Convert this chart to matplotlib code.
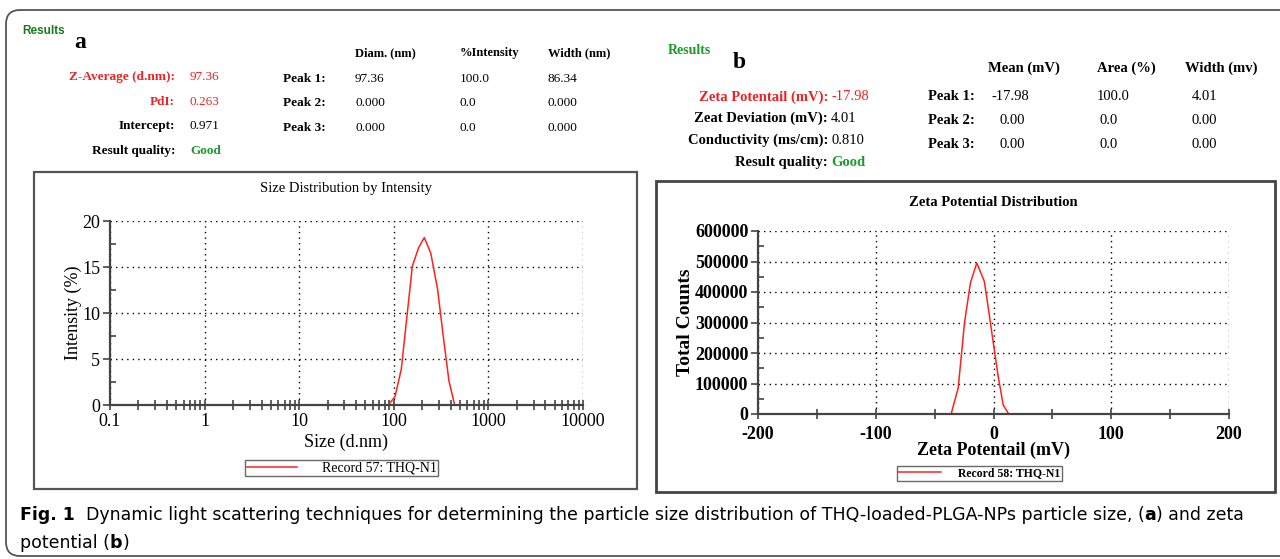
import numpy as np
import matplotlib
matplotlib.use("Agg")
import matplotlib.pyplot as plt
from matplotlib.patches import Rectangle, FancyBboxPatch
from matplotlib.ticker import MultipleLocator, LogLocator, NullFormatter

plt.rcParams["axes.unicode_minus"] = False

# ---- data ----
size_nm = [0.4, 1, 10, 87, 103, 120, 157, 183, 210, 246, 290, 333, 383, 440, 1000, 10000]
intensity = [0, 0, 0, 0, 0.9, 3.9, 15.1, 17.1, 18.2, 16.5, 12.6, 7.5, 2.6, 0, 0, 0]

zeta_mv = [-150, -100, -36, -30, -24.6, -19.6, -14.2, -7.8, -3.5, 0.5, 3.8, 8.2, 12.9, 50, 150]
counts = [0, 0, 0, 85000, 300000, 430000, 495000, 435000, 323000, 215000, 128000, 30000, 0, 0, 0]

size_ticks = [0.1, 1, 10, 100, 1000, 10000]
size_ticklabels = ["0.1", "1", "10", "100", "1000", "10000"]
zeta_ticks = [-200, -100, 0, 100, 200]

W, H = 1280, 559
fig = plt.figure(figsize=(W / 100, H / 100), dpi=100)

# overlay in pixel coordinates for frames and text
ov = fig.add_axes([0, 0, 1, 1], zorder=0)
ov.set_xlim(0, W)
ov.set_ylim(H, 0)
ov.axis("off")

SERIF = "Liberation Serif"
RED = "#ee2222"
GREEN = "#1a9a2a"

ov.add_patch(FancyBboxPatch((6, 10), 1400, 546, boxstyle="round,pad=0,rounding_size=14",
                            fc="none", ec="#555555", lw=1.3, clip_on=False))
ov.add_patch(Rectangle((34, 172), 603, 317, fc="none", ec="#555555", lw=1.6))
ov.add_patch(Rectangle((656, 181), 619, 311, fc="none", ec="#444444", lw=2.0))


def txt(x, y, s, size=9.5, color="black", weight="bold", ha="left", family=SERIF):
    return ov.text(x, y, s, fontsize=size, color=color, fontweight=weight, ha=ha, va="center",
                   family=family)


# ---- panel a header ----
txt(22, 31, "Results", 8.5, "#1a7a1a", family="Liberation Sans")
txt(74, 42, "a", 17)
for x, s in [(355, "Diam. (nm)"), (460, "%Intensity"), (548, "Width (nm)")]:
    txt(x, 53, s, 9)
rows_a = [("Z-Average (d.nm):", "97.36", RED, RED, "normal"),
          ("PdI:", "0.263", RED, RED, "normal"),
          ("Intercept:", "0.971", "black", "black", "normal"),
          ("Result quality:", "Good", "black", GREEN, "bold")]
for i, (lab, val, c1, c2, w) in enumerate(rows_a):
    y = 77 + i * 24.7
    txt(175, y, lab, 9.5, c1, ha="right")
    txt(190, y, val, 9.5, c2, weight=w)
peaks_a = [("Peak 1:", "97.36", "100.0", "86.34"),
           ("Peak 2:", "0.000", "0.0", "0.000"),
           ("Peak 3:", "0.000", "0.0", "0.000")]
for i, (p, d, it, wd) in enumerate(peaks_a):
    y = 79 + i * 24.5
    txt(283, y, p, 9.5)
    txt(355, y, d, 9.5, weight="normal")
    txt(460, y, it, 9.5, weight="normal")
    txt(548, y, wd, 9.5, weight="normal")

# ---- panel b header ----
txt(668, 51, "Results", 10, GREEN)
txt(733, 63, "b", 17)
for x, s in [(988, "Mean (mV)"), (1097, "Area (%)"), (1185, "Width (mv)")]:
    txt(x, 68, s, 10.5)
rows_b = [("Zeta Potentail (mV):", "-17.98", RED, RED, "normal"),
          ("Zeat Deviation (mV):", "4.01", "black", "black", "normal"),
          ("Conductivity (ms/cm):", "0.810", "black", "black", "normal"),
          ("Result quality:", "Good", "black", GREEN, "bold")]
for i, (lab, val, c1, c2, w) in enumerate(rows_b):
    y = 97 + i * 21.7
    txt(828, y, lab, 10.5, c1, ha="right")
    txt(831, y, val, 10.5, c2, weight=w)
peaks_b = [("Peak 1:", "-17.98", "100.0", "4.01"),
           ("Peak 2:", "0.00", "0.0", "0.00"),
           ("Peak 3:", "0.00", "0.0", "0.00")]
for i, (p, m, ar, wd) in enumerate(peaks_b):
    y = 97 + i * 24
    txt(928, y, p, 10.5)
    txt(992 if i == 0 else 1000, y, m, 10.5, weight="normal")
    txt(1097 if i == 0 else 1100, y, ar, 10.5, weight="normal")
    txt(1192, y, wd, 10.5, weight="normal")

# ---- caption, pieces chained one after another ----
CAP = "DejaVu Sans"


def chain(x, y, parts, size=12.4):
    prev = None
    for s, w in parts:
        if prev is None:
            prev = ov.text(x, y, s, fontsize=size, fontweight=w, family=CAP, va="bottom")
        else:
            prev = ov.annotate(s, xy=(1, 0), xycoords=prev, fontsize=size, fontweight=w,
                               family=CAP, va="bottom", ha="left")


chain(20, 524, [("Fig. 1", "bold"),
                ("  Dynamic light scattering techniques for determining the particle size "
                 "distribution of THQ-loaded-PLGA-NPs particle size, (", "normal"),
                ("a", "bold"), (") and zeta", "normal")], 12.5)
chain(20, 552, [("potential (", "normal"), ("b", "bold"), (")", "normal")], 12.5)


def px_axes(l, t, r, b):
    return fig.add_axes([l / W, 1 - b / H, (r - l) / W, (b - t) / H], zorder=1)


def style(ax, bold, xpad=2):
    for s in ["top", "right"]:
        ax.spines[s].set_visible(False)
    for s in ["left", "bottom"]:
        ax.spines[s].set_color("#444444")
        ax.spines[s].set_linewidth(1.6)
    ax.set_facecolor("none")
    ax.grid(True, which="major", color="black", linestyle=(0, (1, 3)), lw=1)
    ax.tick_params(axis="both", which="both", color="#444444", width=1.2)
    ax.tick_params(axis="y", which="major", length=5, pad=2)
    ax.tick_params(axis="y", which="minor", length=4, direction="in")
    ax.tick_params(axis="x", which="both", length=7, direction="inout", pad=xpad)
    for lab in ax.get_xticklabels() + ax.get_yticklabels():
        lab.set_family(SERIF)
        lab.set_fontsize(13)
        lab.set_fontweight("bold" if bold else "normal")


# ---- panel a plot ----
axa = px_axes(110, 221, 583, 405)
axa.plot(size_nm, intensity, color="#ff2020", lw=1.1, clip_on=False, label="Record 57: THQ-N1")
axa.set_xscale("log")
axa.set_xlim(0.1, 10000)
axa.set_ylim(0, 20)
axa.set_xticks(size_ticks)
axa.set_xticklabels(size_ticklabels)
axa.xaxis.set_minor_locator(LogLocator(base=10, subs=np.arange(2, 10)))
axa.xaxis.set_minor_formatter(NullFormatter())
axa.set_yticks([0, 5, 10, 15, 20])
axa.yaxis.set_minor_locator(MultipleLocator(2.5))
style(axa, False)
axa.set_title("Size Distribution by Intensity", family=SERIF, fontsize=10.5, pad=21)
axa.set_xlabel("Size (d.nm)", family=SERIF, fontsize=13, labelpad=3)
axa.set_ylabel("Intensity (%)", family=SERIF, fontsize=13, labelpad=0)
axa.legend(loc="upper center", bbox_to_anchor=(0.49, -0.3), frameon=True, fancybox=False,
           edgecolor="#444444", prop={"family": SERIF, "size": 10}, handlelength=3.6,
           borderpad=0.1, handletextpad=1.8, borderaxespad=0)

# ---- panel b plot ----
axb = px_axes(758, 231, 1229, 414)
axb.plot(zeta_mv, counts, color="#ff2020", lw=1.1, clip_on=False, label="Record 58: THQ-N1")
axb.set_xlim(-200, 200)
axb.set_ylim(0, 600000)
axb.set_xticks(zeta_ticks)
axb.xaxis.set_minor_locator(MultipleLocator(50))
axb.yaxis.set_major_locator(MultipleLocator(100000))
axb.yaxis.set_minor_locator(MultipleLocator(50000))
style(axb, True, xpad=5)
axb.set_title("Zeta Potential Distribution", family=SERIF, fontsize=10.5, fontweight="bold", pad=18)
axb.set_xlabel("Zeta Potentail (mV)", family=SERIF, fontsize=13, fontweight="bold", labelpad=-1)
axb.set_ylabel("Total Counts", family=SERIF, fontsize=14, fontweight="bold", labelpad=1)
axb.legend(loc="upper center", bbox_to_anchor=(0.47, -0.285), frameon=True, fancybox=False,
           edgecolor="#444444", prop={"family": SERIF, "size": 8.5, "weight": "bold"},
           handlelength=3.6, borderpad=0.1, handletextpad=1.5, borderaxespad=0)

fig.savefig("out.png", dpi=100)
